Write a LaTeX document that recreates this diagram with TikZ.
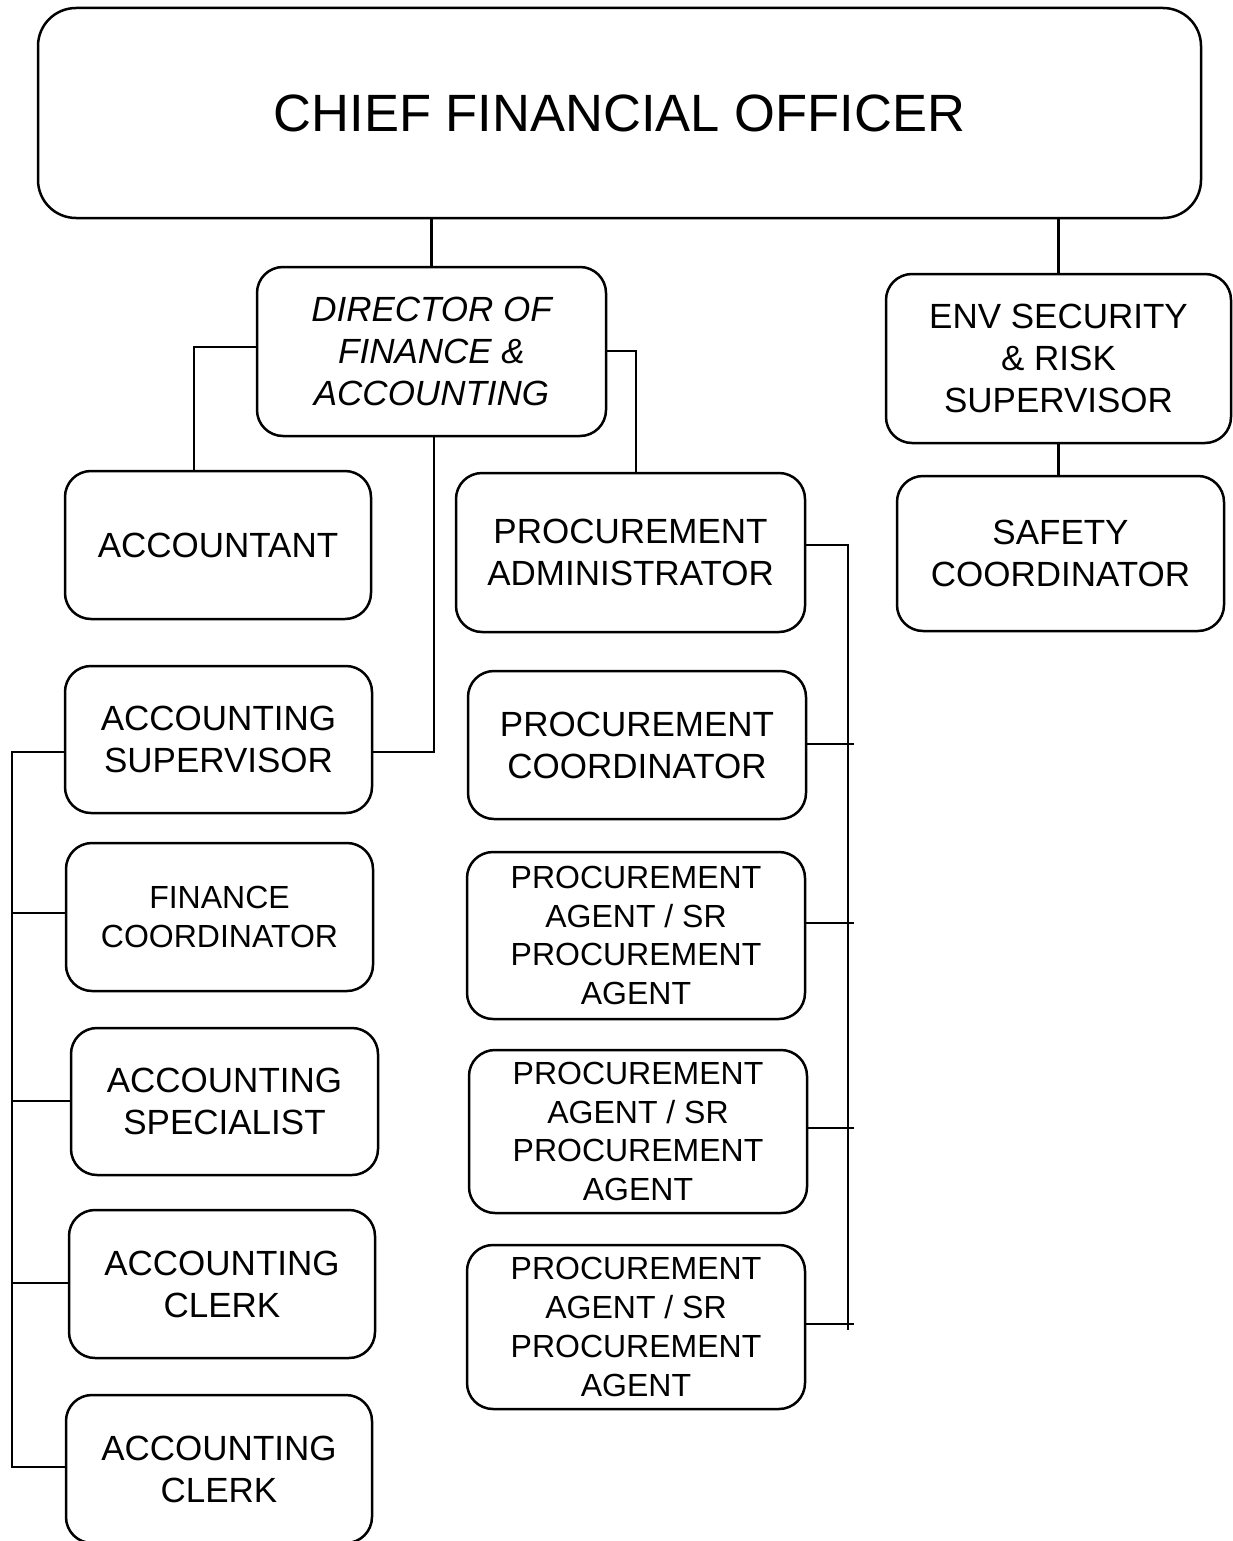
\documentclass[tikz,border=0pt]{standalone}
\usepackage{fontspec}
\setmainfont{Liberation Sans}
\begin{document}
\begin{tikzpicture}[x=1pt,y=-1pt,
  box/.style={draw, line width=2.5pt, rounded corners=26pt, inner sep=0pt,
    align=center, font=\fontsize{35}{42}\selectfont},
  smallbox/.style={box, font=\fontsize{32}{38.7}\selectfont},
  link/.style={line width=2.2pt}]
\useasboundingbox (0,0) rectangle (1233,1541);
\begin{scope}
\clip (0,0) rectangle (1233,1541);

% top level
\node[box, rounded corners=38pt, minimum width=1163pt, minimum height=210pt,
  font=\fontsize{52.5}{63}\selectfont] (cfo) at (619.5,113) {CHIEF FINANCIAL OFFICER};

% second level
\node[box, minimum width=349pt, minimum height=169pt, font=\fontsize{35}{42}\selectfont\itshape]
  (dir) at (431.5,351.5) {DIRECTOR OF\\FINANCE \&\\ACCOUNTING};
\node[box, minimum width=345pt, minimum height=169pt] (env) at (1058.5,358.5)
  {ENV SECURITY\\\& RISK\\SUPERVISOR};
\node[box, minimum width=327pt, minimum height=155pt] (safety) at (1060.5,553.5)
  {SAFETY\\COORDINATOR};

% accounting column
\node[box, minimum width=306pt, minimum height=148pt] (acct) at (218,545) {ACCOUNTANT};
\node[box, minimum width=307pt, minimum height=147pt] (accsup) at (218.5,739.5)
  {ACCOUNTING\\SUPERVISOR};
\node[smallbox, minimum width=307pt, minimum height=148pt] (fincoord) at (219.5,917)
  {FINANCE\\COORDINATOR};
\node[box, minimum width=307pt, minimum height=147pt] (accspec) at (224.5,1101.5)
  {ACCOUNTING\\SPECIALIST};
\node[box, minimum width=306pt, minimum height=148pt] (clerkA) at (222,1284)
  {ACCOUNTING\\CLERK};
\node[box, minimum width=306pt, minimum height=148pt] (clerkB) at (219,1469)
  {ACCOUNTING\\CLERK};

% procurement column
\node[box, minimum width=349pt, minimum height=159pt] (padmin) at (630.5,552.5)
  {PROCUREMENT\\ADMINISTRATOR};
\node[box, minimum width=338pt, minimum height=148pt] (pcoord) at (637,745)
  {PROCUREMENT\\COORDINATOR};
\node[smallbox, minimum width=338pt, minimum height=167pt] (pagentA) at (636,935.5)
  {PROCUREMENT\\AGENT / SR\\PROCUREMENT\\AGENT};
\node[smallbox, minimum width=338pt, minimum height=163pt] (pagentB) at (638,1131.5)
  {PROCUREMENT\\AGENT / SR\\PROCUREMENT\\AGENT};
\node[smallbox, minimum width=338pt, minimum height=164pt] (pagentC) at (636,1327)
  {PROCUREMENT\\AGENT / SR\\PROCUREMENT\\AGENT};

% helper points for the elbows and buses
\coordinate (dL) at (194,347);
\coordinate (dR) at (636,351);
\coordinate (dB) at (434,752);
\coordinate (busL) at (12,752);
\coordinate (busLend) at (12,1467);
\coordinate (busR) at (848,545);
\coordinate (busRend) at (848,1330);
\coordinate (tick) at (854,0);

% connectors from the top
\draw[link] (cfo.south -| dir.north) -- (dir.north);
\draw[link] (cfo.south -| env.north) -- (env.north);
\draw[link] (env.south) -- (env.south |- safety.north);

% director to its reports
\draw[link] (dir.west |- dL) -- (dL) -- (dL |- acct.north);
\draw[link] (dir.east |- dR) -- (dR) -- (dR |- padmin.north);
\draw[link] (dB |- dir.south) -- (dB) -- (accsup.east |- dB);

% accounting supervisor bus
\draw[link] (accsup.west |- busL) -- (busL) -- (busLend) -- (clerkB.west |- busLend);
\draw[link] ([yshift=4pt]fincoord.west) -- ([yshift=4pt]fincoord.west -| busL);
\draw[link] ([yshift=0.5pt]accspec.west) -- ([yshift=0.5pt]accspec.west -| busL);
\draw[link] ([yshift=1pt]clerkA.west) -- ([yshift=1pt]clerkA.west -| busL);

% procurement administrator bus
\draw[link] (padmin.east |- busR) -- (busR) -- (busRend);
\draw[link] ([yshift=1pt]pcoord.east) -- ([yshift=1pt]pcoord.east -| tick);
\draw[link] ([yshift=12.5pt]pagentA.east) -- ([yshift=12.5pt]pagentA.east -| tick);
\draw[link] ([yshift=3.5pt]pagentB.east) -- ([yshift=3.5pt]pagentB.east -| tick);
\draw[link] ([yshift=3pt]pagentC.east) -- ([yshift=3pt]pagentC.east -| tick);
\end{scope}
\end{tikzpicture}
\end{document}
